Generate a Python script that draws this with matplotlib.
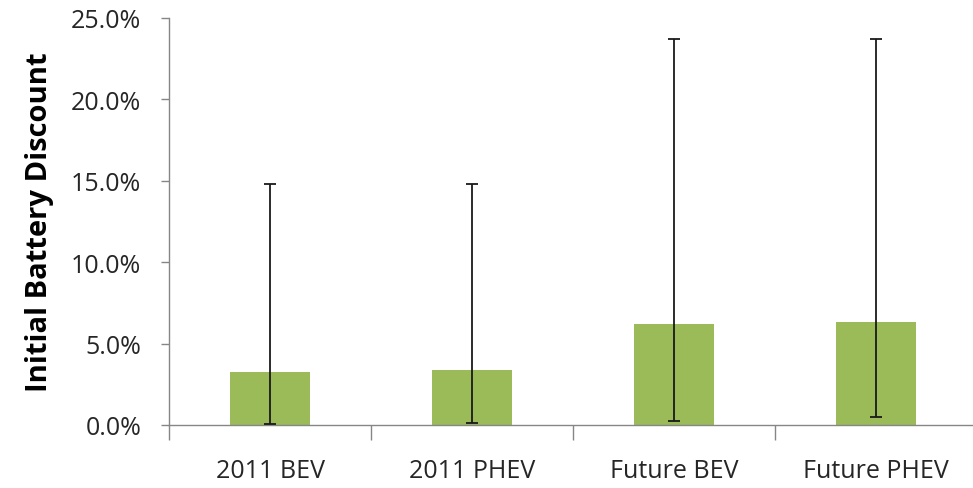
import numpy as np
import matplotlib
matplotlib.use('Agg')
import matplotlib.pyplot as plt
from matplotlib.ticker import FuncFormatter, FixedLocator

# Data
categories = ['2011 BEV', '2011 PHEV', 'Future BEV', 'Future PHEV']
discount = [3.25, 3.35, 6.2, 6.3]          # bar heights, %
err_high = [14.8, 14.8, 23.7, 23.7]        # upper end of error bar, %
err_low = [0.08, 0.15, 0.23, 0.47]         # lower end of error bar, %
y_ticks = [0, 5, 10, 15, 20, 25]

plt.rcParams['font.family'] = ['Open Sans', 'DejaVu Sans']

fig = plt.figure(figsize=(9.73, 4.89), dpi=100, facecolor='white')
ax = fig.add_axes([169/973, 63/489, 808/973, 407/489])

x = np.arange(len(categories))
vals = np.array(discount)
yerr = [vals - np.array(err_low), np.array(err_high) - vals]

ax.bar(x, vals, width=0.4, color='#9BBB59', zorder=2)
ax.errorbar(x, vals, yerr=yerr, fmt='none', ecolor='#1a1a1a', elinewidth=1.3,
            capsize=4.5, capthick=1.3, zorder=3)

ax.set_xlim(-0.5, len(categories) - 0.5)
ax.set_ylim(0, 25)

# y axis
ax.yaxis.set_major_locator(FixedLocator(y_ticks))
ax.yaxis.set_major_formatter(FuncFormatter(lambda v, p: f'{v:.1f}%'))
ax.tick_params(axis='y', direction='out', length=6, color='#868686', width=1,
               labelsize=18, labelcolor='#262626', pad=14)

# x axis: labels at centres, ticks at category boundaries
ax.set_xticks(x)
ax.set_xticklabels(categories)
ax.set_xticks(np.arange(-0.5, len(categories)), minor=True)
ax.tick_params(axis='x', which='major', length=0, labelsize=18,
               labelcolor='#262626', pad=24)
ax.tick_params(axis='x', which='minor', direction='out', length=11,
               color='#868686', width=1)

for side in ['top', 'right']:
    ax.spines[side].set_visible(False)
for side in ['left', 'bottom']:
    ax.spines[side].set_color('#868686')
    ax.spines[side].set_linewidth(1)

ax.set_ylabel('Initial Battery Discount', fontsize=21, fontweight='bold',
              color='black', labelpad=12)

fig.savefig('out.png', dpi=100, facecolor='white')
